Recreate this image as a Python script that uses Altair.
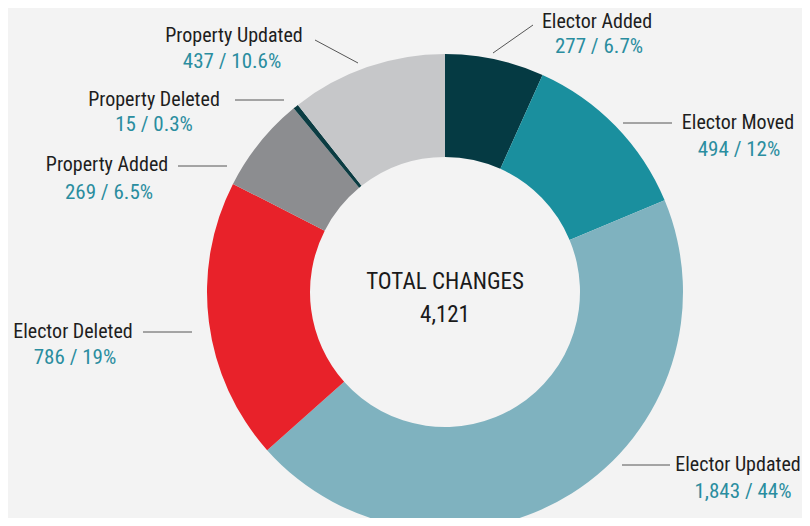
import altair as alt
import pandas as pd

# ---- data ----
categories = ["Elector Added", "Elector Moved", "Elector Updated", "Elector Deleted",
              "Property Added", "Property Deleted", "Property Updated"]
counts = [277, 494, 1843, 786, 269, 15, 437]
value_labels = ["277 / 6.7%", "494 / 12%", "1,843 / 44%", "786 / 19%",
                "269 / 6.5%", "15 / 0.3%", "437 / 10.6%"]
colors = ["#053a43", "#1a8f9e", "#7fb2bf", "#e8222a", "#8c8d90", "#0b3c42", "#c6c7c9"]
center_title = "TOTAL CHANGES"
center_total = "4,121"

# ---- layout (page pixel positions of the annotations) ----
M = 8
name_x = [597, 738, 738, 73, 107, 154, 234]
name_y = [22, 123, 465, 332, 165, 100, 36]
val_x = [599, 739, 743, 75, 109, 154, 232]
val_y = [47, 150, 492, 358, 193, 125, 62]
lead_x1 = [533, 623, 622, 143, 178, 235, 315]
lead_y1 = [25, 123, 465, 332, 166, 100, 40]
lead_x2 = [493, 672, 670, 192, 227, 284, 358]
lead_y2 = [53, 123, 465, 332, 166, 100, 63]
CX, CY = 445 - M, 292 - M
R_OUT, R_IN = 238, 135

FONT = "Liberation Sans Narrow, Roboto Condensed, Roboto, sans-serif"

df = pd.DataFrame({"cat": categories, "count": counts, "idx": list(range(len(categories)))})
lab = pd.DataFrame({
    "cat": categories, "val": value_labels,
    "nx": [v - M for v in name_x], "ny": [v - M for v in name_y],
    "vx": [v - M for v in val_x], "vy": [v - M for v in val_y],
    "x1": [v - M for v in lead_x1], "y1": [v - M for v in lead_y1],
    "x2": [v - M for v in lead_x2], "y2": [v - M for v in lead_y2],
})

donut = alt.Chart(df).mark_arc(innerRadius=R_IN, outerRadius=R_OUT).encode(
    theta=alt.Theta("count:Q", stack=True),
    order=alt.Order("idx:Q"),
    color=alt.Color("cat:N", scale=alt.Scale(domain=categories, range=colors), legend=None),
    x=alt.value(CX), y=alt.value(CY),
)

base = alt.Chart(lab)
leaders = base.mark_rule(color="#555555", strokeWidth=1).encode(
    x=alt.X("x1:Q", scale=None), y=alt.Y("y1:Q", scale=None),
    x2="x2:Q", y2="y2:Q",
)
names = base.mark_text(font=FONT, fontSize=20, color="#1e1e1e", baseline="middle", align="center").encode(
    x=alt.X("nx:Q", scale=None), y=alt.Y("ny:Q", scale=None), text="cat:N",
)
vals = base.mark_text(font=FONT, fontSize=21, color="#2a8d9f", baseline="middle", align="center").encode(
    x=alt.X("vx:Q", scale=None), y=alt.Y("vy:Q", scale=None), text="val:N",
)

ctr = pd.DataFrame({"t": [center_title, center_total], "k": [0, 1]})
center = alt.Chart(ctr).mark_text(font=FONT, fontSize=23, color="#1a1a1a", baseline="middle", align="center").encode(
    x=alt.value(CX),
    y=alt.Y("k:Q", scale=alt.Scale(domain=[0, 1], range=[282 - M, 315 - M]), axis=None),
    text="t:N",
)

chart = alt.layer(donut, leaders, names, vals, center).properties(
    width=794, height=510, padding=0,
    autosize=alt.AutoSizeParams(type="fit", contains="padding"),
    background="#f3f3f3",
).configure_view(stroke=None)

chart.save("out.html", embed_options={"renderer": "svg", "actions": False})
